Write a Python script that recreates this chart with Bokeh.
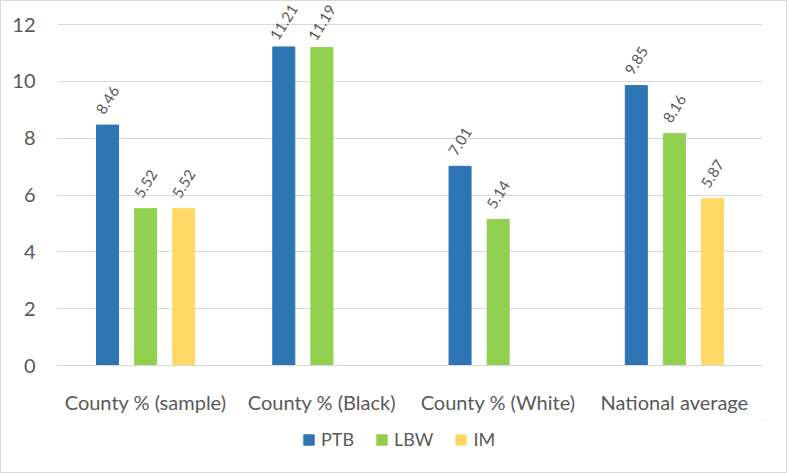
import math
from bokeh.plotting import figure
from bokeh.layouts import column
from bokeh.models import (ColumnDataSource, FactorRange, Range1d, Legend, LegendItem,
                          FixedTicker, LabelSet)
from bokeh.transform import dodge
from bokeh.core.properties import value
from bokeh.embed import file_html
from bokeh.resources import INLINE

categories = ["County % (sample)", "County % (Black)", "County % (White)", "National average"]
series_names = ["PTB", "LBW", "IM"]
ptb = [8.46, 11.21, 7.01, 9.85]
lbw = [5.52, 11.19, 5.14, 8.16]
im = [5.52, None, None, 5.87]
y_ticks = [0, 2, 4, 6, 8, 10, 12]

colors = ["#2E75B6", "#92D050", "#FFD966"]
offsets = [-0.216, 0.0, 0.216]
FONT = "Lato"
TXT = "#595959"
W = 785

p = figure(x_range=FactorRange(*categories), y_range=Range1d(0, 12.81),
           width=W, height=419, output_backend="svg", toolbar_location=None,
           min_border_left=56, min_border_right=24, min_border_top=0, min_border_bottom=55)
p.outline_line_color = None
p.background_fill_color = "white"
p.border_fill_color = "white"

for name, vals, col, off in zip(series_names, [ptb, lbw, im], colors, offsets):
    xs = [c for c, v in zip(categories, vals) if v is not None]
    ys = [v for v in vals if v is not None]
    src = ColumnDataSource(dict(x=xs, y=ys, lab=["%.2f" % v for v in ys]))
    p.vbar(x=dodge("x", off, range=p.x_range), top="y", width=0.125, source=src,
           fill_color=col, line_color=col)
    labels = LabelSet(x=dodge("x", off, range=p.x_range), y="y", text="lab", source=src,
                      angle=58, angle_units="deg", text_align="center",
                      text_baseline="middle", y_offset=25, text_font=value(FONT),
                      text_font_size="15px", text_color=TXT)
    p.add_layout(labels)

p.yaxis.ticker = FixedTicker(ticks=y_ticks)
p.yaxis.axis_line_color = None
p.yaxis.major_tick_line_color = None
p.yaxis.minor_tick_line_color = None
p.yaxis.major_label_standoff = 16
p.yaxis.major_label_text_font = FONT
p.yaxis.major_label_text_font_size = "20px"
p.yaxis.major_label_text_color = TXT

p.xaxis.axis_line_color = "#D9D9D9"
p.xaxis.major_tick_line_color = None
p.xaxis.minor_tick_line_color = None
p.xaxis.major_label_standoff = 18
p.xaxis.major_label_text_font = FONT
p.xaxis.major_label_text_font_size = "20px"
p.xaxis.major_label_text_color = TXT

p.xgrid.grid_line_color = None
p.ygrid.grid_line_color = "#D9D9D9"
p.ygrid.grid_line_width = 1

# legend strip
lg = figure(width=W, height=52, output_backend="svg", toolbar_location=None,
            x_range=Range1d(0, 1), y_range=Range1d(0, 1),
            min_border=0, min_border_left=56, min_border_right=24,
            min_border_top=0, min_border_bottom=0)
lg.axis.visible = False
lg.grid.visible = False
lg.outline_line_color = None
items = []
for name, col in zip(series_names, colors):
    r = lg.vbar(x=[5.0], top=[5.0], bottom=[4.0], width=0.1, fill_color=col, line_color=col)
    items.append(LegendItem(label=name, renderers=[r]))
legend = Legend(items=items, orientation="horizontal", location=(245, 22),
                glyph_width=13, glyph_height=13, label_standoff=6, spacing=21,
                label_text_font=FONT, label_text_font_size="18px", label_text_color=TXT,
                border_line_color=None, background_fill_alpha=0, padding=0, margin=0)
lg.add_layout(legend)

layout = column(p, lg, spacing=0)
layout.styles = {"border": "1px solid #D9D9D9"}

open("out.html", "w").write(file_html(layout, INLINE))
